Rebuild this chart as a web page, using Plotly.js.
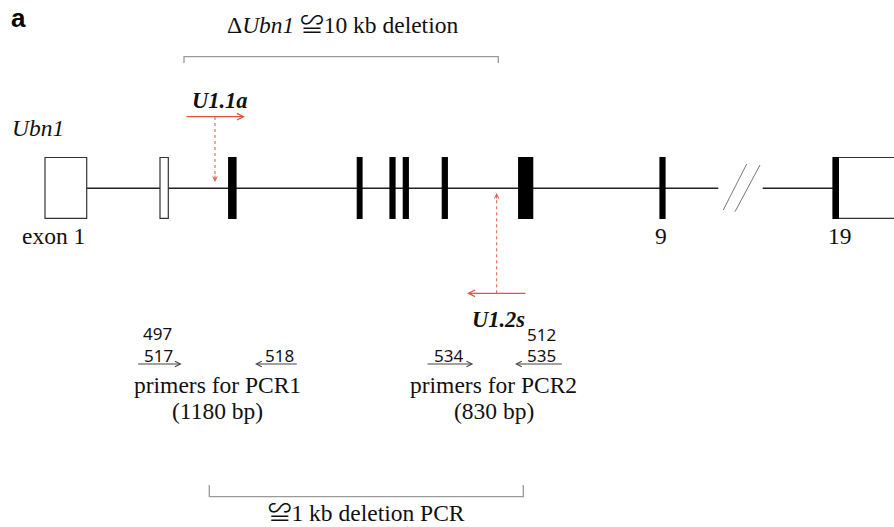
<!DOCTYPE html>
<html>
<head>
<meta charset="utf-8">
<script src="https://cdn.plot.ly/plotly-3.0.1.min.js"></script>
<style>html,body{margin:0;padding:0;background:#fff;}#chart{width:894px;height:527px;}</style>
</head>
<body>
<div id="chart"></div>
<script>
// ---- data (diagram coordinates) ----
const exonStart = [45, 160, 228.7, 357.3, 390, 403.3, 442.3, 518.7, 660, 833];
const exonEnd   = [86.7, 168.3, 236, 362, 395, 408.3, 447.3, 532.7, 665, 838.3];
const exonFill  = ['white', 'white', 'black', 'black', 'black', 'black', 'black', 'black', 'black', 'black'];
const exonLabels = ['exon 1', '9', '19'];
const exonLabelX = [53, 661, 840];
const intronStart = [86.7, 762.7];
const intronEnd   = [718.3, 833];
const utrStart = [838.3];
const utrEnd = [900];
const geneY = 188.3;
const exonTop = 157.5;
const exonBottom = 218.3;

const primerNames = ['517', '518', '534', '535'];
const primerFrom  = [136.7, 298.3, 426, 563.3];
const primerTo    = [181.7, 255, 473.3, 515];
const primerLabelX = [158, 279, 448, 541.7];
const extraPrimers = ['497', '512'];
const extraPrimerX = [157.5, 541];
const extraPrimerY = [333, 334];

const pcrNames = ['primers for PCR1', 'primers for PCR2'];
const pcrSizes = ['(1180 bp)', '(830 bp)'];
const pcrX = [217.5, 493.7];

const sgRNAs = ['<b><i>U1.1a</i></b>', '<b><i>U1.2s</i></b>'];

const shapes = [];
const ann = [];
const serif = 'Liberation Serif, Times New Roman, Noto Sans CJK SC, serif';
const red = '#e4533c';
const grey = '#9a9a9a';
const FS = 23.5;

// introns
for (let i = 0; i < intronStart.length; i++) {
  shapes.push({type: 'line', xref: 'x', yref: 'y', x0: intronStart[i], x1: intronEnd[i], y0: geneY, y1: geneY,
    line: {color: '#222', width: 1.5}});
}
// break marks
shapes.push({type: 'line', xref: 'x', yref: 'y', x0: 723.3, y0: 210, x1: 746.7, y1: 164, line: {color: '#777', width: 1}});
shapes.push({type: 'line', xref: 'x', yref: 'y', x0: 735, y0: 211.7, x1: 760, y1: 165, line: {color: '#777', width: 1}});
// UTR box
for (let i = 0; i < utrStart.length; i++) {
  shapes.push({type: 'rect', xref: 'x', yref: 'y', x0: utrStart[i], x1: utrEnd[i], y0: exonTop, y1: exonBottom,
    fillcolor: 'white', line: {color: '#333', width: 1.2}});
}
// exons
for (let i = 0; i < exonStart.length; i++) {
  shapes.push({type: 'rect', xref: 'x', yref: 'y', x0: exonStart[i], x1: exonEnd[i], y0: exonTop, y1: exonBottom,
    fillcolor: exonFill[i], line: {color: exonFill[i] === 'black' ? 'black' : '#333', width: 1.2}});
}
// brackets
shapes.push({type: 'path', xref: 'x', yref: 'y', path: 'M184,63 L184,56.7 L498.3,56.7 L498.3,63', line: {color: grey, width: 1.3}});
shapes.push({type: 'path', xref: 'x', yref: 'y', path: 'M209.3,485 L209.3,496.7 L523.3,496.7 L523.3,485', line: {color: grey, width: 1.3}});

// red dotted verticals
shapes.push({type: 'line', xref: 'x', yref: 'y', x0: 215, x1: 215, y0: 117, y1: 180, line: {color: red, width: 1, dash: 'dot'}});
shapes.push({type: 'line', xref: 'x', yref: 'y', x0: 496.7, x1: 496.7, y0: 293.3, y1: 196, line: {color: red, width: 1, dash: 'dot'}});

function arrow(x0, y0, x1, y1, color, w) {
  ann.push({xref: 'x', yref: 'y', axref: 'x', ayref: 'y', x: x1, y: y1, ax: x0, ay: y0, text: '',
    showarrow: true, arrowhead: 5, arrowsize: 1, arrowwidth: w, arrowcolor: color, standoff: 0, startstandoff: 0});
}
// sgRNA arrows
arrow(185, 116.7, 245, 116.7, red, 1.3);
arrow(215, 174, 215, 182, red, 0.9);
arrow(527, 293.3, 467, 293.3, red, 1.3);
arrow(496.7, 200, 496.7, 193, red, 0.9);

// primer arrows
for (let i = 0; i < primerNames.length; i++) {
  arrow(primerFrom[i], 364, primerTo[i], 364, '#444', 1.1);
  ann.push({xref: 'x', yref: 'y', x: primerLabelX[i], y: 355, text: primerNames[i], showarrow: false,
    xanchor: 'center', yanchor: 'middle', font: {family: 'Noto Sans, Open Sans, sans-serif', size: 17, color: '#111'}});
}
for (let i = 0; i < extraPrimers.length; i++) {
  ann.push({xref: 'x', yref: 'y', x: extraPrimerX[i], y: extraPrimerY[i], text: extraPrimers[i], showarrow: false,
    xanchor: 'center', yanchor: 'middle', font: {family: 'Noto Sans, Open Sans, sans-serif', size: 17, color: '#111'}});
}
for (let i = 0; i < pcrNames.length; i++) {
  ann.push({xref: 'x', yref: 'y', x: pcrX[i], y: 385, text: pcrNames[i], showarrow: false,
    xanchor: 'center', yanchor: 'middle', font: {family: serif, size: FS, color: '#111'}});
  ann.push({xref: 'x', yref: 'y', x: pcrX[i], y: 411, text: pcrSizes[i], showarrow: false,
    xanchor: 'center', yanchor: 'middle', font: {family: serif, size: FS, color: '#111'}});
}
// exon labels
for (let i = 0; i < exonLabels.length; i++) {
  ann.push({xref: 'x', yref: 'y', x: exonLabelX[i], y: 236, text: exonLabels[i], showarrow: false,
    xanchor: 'center', yanchor: 'middle', font: {family: serif, size: FS, color: '#111'}});
}
// sgRNA labels
ann.push({xref: 'x', yref: 'y', x: 220, y: 100, text: sgRNAs[0], showarrow: false, xanchor: 'center', yanchor: 'middle',
  font: {family: serif, size: 22.5, color: '#111'}});
ann.push({xref: 'x', yref: 'y', x: 498, y: 319, text: sgRNAs[1], showarrow: false, xanchor: 'center', yanchor: 'middle',
  font: {family: serif, size: 22.5, color: '#111'}});
// gene name
ann.push({xref: 'x', yref: 'y', x: 38, y: 128, text: '<i>Ubn1</i>', showarrow: false, xanchor: 'center', yanchor: 'middle',
  font: {family: serif, size: FS, color: '#111'}});
// titles
ann.push({xref: 'x', yref: 'y', x: 342.7, y: 25, text: 'Δ<i>Ubn1</i> ≌10 kb deletion', showarrow: false, xanchor: 'center', yanchor: 'middle',
  font: {family: serif, size: FS, color: '#111'}});
ann.push({xref: 'x', yref: 'y', x: 366.7, y: 513, text: '≌1 kb deletion PCR', showarrow: false, xanchor: 'center', yanchor: 'middle',
  font: {family: serif, size: FS, color: '#111'}});
// panel letter
ann.push({xref: 'x', yref: 'y', x: 18, y: 18, text: '<b>a</b>', showarrow: false, xanchor: 'center', yanchor: 'middle',
  font: {family: 'Liberation Sans, Arial, sans-serif', size: 26, color: '#000'}});

const layout = {
  width: 894, height: 527,
  margin: {l: 0, r: 0, t: 0, b: 0},
  paper_bgcolor: 'white', plot_bgcolor: 'white',
  xaxis: {range: [0, 894], visible: false, fixedrange: true},
  yaxis: {range: [527, 0], visible: false, fixedrange: true},
  shapes: shapes,
  annotations: ann,
  showlegend: false
};
Plotly.newPlot('chart', [], layout, {displayModeBar: false, staticPlot: true});
</script>
</body>
</html>
